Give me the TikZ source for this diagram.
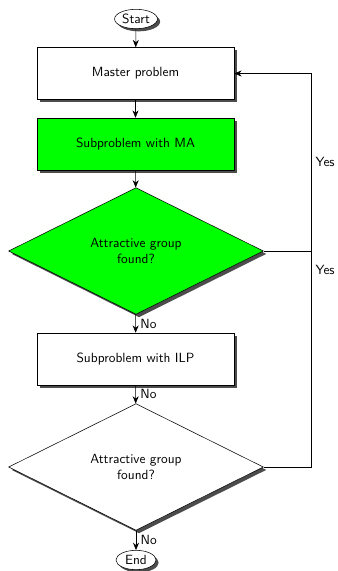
\documentclass[tikz,border=0pt]{standalone}
\usepackage{tikz}
\usetikzlibrary{arrows.meta,shapes.geometric,shadows}
\tikzset{
  procbox/.style={rectangle, draw, fill=white, minimum width=147.75pt, minimum height=39pt,
    drop shadow={shadow xshift=2.2pt, shadow yshift=-2.2pt, fill=black!70, opacity=1}},
  decision/.style={diamond, draw, fill=white, align=center, inner sep=0pt,
    minimum width=191pt, minimum height=95pt,
    drop shadow={shadow xshift=2.2pt, shadow yshift=-2.2pt, fill=black!70, opacity=1}},
  termnode/.style={ellipse, draw, fill=white, inner sep=1pt, minimum width=30pt, minimum height=14.5pt,
    drop shadow={shadow xshift=2pt, shadow yshift=-2pt, fill=black!70, opacity=1}},
}
\begin{document}
\begin{tikzpicture}[x=0.75pt, y=-0.75pt, >={Stealth[length=5.5pt,width=4.5pt]},
    every node/.style={font=\sffamily}]
  \useasboundingbox (0,0) rectangle (338,571);
  % flow from top to bottom
  \node[termnode] (start) at (136,19) {Start};
  \node[procbox] (master) at (135.5,73.5) {Master problem};
  \node[procbox, fill=green] (subma) at (135.5,144) {Subproblem with MA};
  \node[decision, fill=green] (found1) at (136,251) {Attractive group\\found?};
  \node[procbox] (subilp) at (135.5,359) {Subproblem with ILP};
  \node[decision] (found2) at (136,467) {Attractive group\\found?};
  \node[termnode] (end) at (136,560) {End};
  \coordinate (loop) at (311,0);

  \draw[->] (start) -- (master);
  \draw[->] (master) -- (subma);
  \draw[->] (subma) -- (found1);
  \draw[->] (found1) -- node[right]{No} (subilp);
  \draw[->] (subilp) -- node[right]{No} (found2);
  \draw[->] (found2) -- node[right]{No} (end);
  % back to the master problem
  \draw[->] (found1.east) -- (found1.east -| loop) |- node[pos=0.25, right]{Yes} (master.east);
  \draw (found2.east) -- (found2.east -| loop) -- node[pos=0.91, right]{Yes} (found1.east -| loop);
\end{tikzpicture}
\end{document}
